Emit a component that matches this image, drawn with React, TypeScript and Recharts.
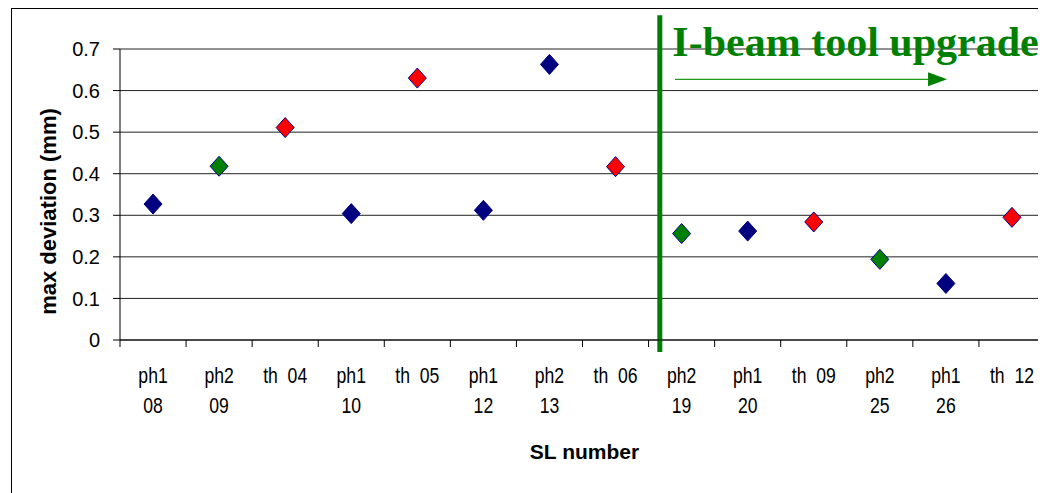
import React from "react";
import {
  ScatterChart,
  Scatter,
  XAxis,
  YAxis,
  CartesianGrid,
  ReferenceLine,
  ReferenceDot,
} from "recharts";

// SL numbers along the x axis
const categories = [
  "ph1 08", "ph2 09", "th  04", "ph1 10", "th  05", "ph1 12", "ph2 13",
  "th  06", "ph2 19", "ph1 20", "th  09", "ph2 25", "ph1 26", "th  12",
];

// max deviation (mm)
const values = [
  0.327, 0.418, 0.511, 0.304, 0.63, 0.312, 0.663,
  0.417, 0.256, 0.262, 0.284, 0.194, 0.136, 0.295,
];

const pointColors = [
  "#000080", "#008000", "#ff0000", "#000080", "#ff0000", "#000080", "#000080",
  "#ff0000", "#008000", "#000080", "#ff0000", "#008000", "#000080", "#ff0000",
];

const yTicks = [0, 0.1, 0.2, 0.3, 0.4, 0.5, 0.6, 0.7];

const upgradeAt = 8.17; // position of the I-beam upgrade marker, in category units
const upgradeText = "I-beam tool upgrade";

const points = categories.map((c, i) => ({
  x: i + 0.5,
  y: values[i],
  name: c,
  color: pointColors[i],
}));

const xTicks: number[] = [];
for (let i = 0; i <= categories.length * 2; i++) xTicks.push(i / 2);

const splitLabel = (s: string) => (s.startsWith("ph") ? s.split(" ") : [s]);

const XTick = (props: any) => {
  const { x, y, payload } = props;
  const v = payload.value;
  if (Number.isInteger(v)) {
    return <line x1={x} x2={x} y1={y} y2={y + 7} stroke="#000" />;
  }
  const lines = splitLabel(categories[Math.floor(v)]);
  return (
    <g transform={`translate(${x},${y}) scale(0.8,1)`}>
      {lines.map((l, i) => (
        <text
          key={i}
          x={0}
          y={43 + 30 * i}
          textAnchor="middle"
          fontSize={22}
          fill="#000"
          style={{ whiteSpace: "pre" }}
        >
          {l}
        </text>
      ))}
    </g>
  );
};

const Diamond = (props: any) => {
  const { cx, cy, payload } = props;
  if (cx == null || cy == null) return null;
  return (
    <polygon
      points={`${cx},${cy - 10} ${cx + 9},${cy} ${cx},${cy + 10} ${cx - 9},${cy}`}
      fill={payload.color}
      stroke="#000080"
      strokeWidth={1}
    />
  );
};

const YTitle = (props: any) => {
  const { viewBox } = props;
  const cx = 48;
  const cy = viewBox.y + viewBox.height / 2 + 17;
  return (
    <text
      x={cx}
      y={cy}
      transform={`rotate(-90, ${cx}, ${cy})`}
      textAnchor="middle"
      fontSize={22}
      fontWeight="bold"
      fill="#000"
    >
      max deviation (mm)
    </text>
  );
};

const XTitle = (props: any) => {
  const { viewBox } = props;
  return (
    <text
      x={viewBox.x + viewBox.width / 2 + 2}
      y={451}
      textAnchor="middle"
      fontSize={21}
      fontWeight="bold"
      fill="#000"
    >
      SL number
    </text>
  );
};

const UpgradeLabel = (props: any) => {
  const { cx, cy } = props;
  return (
    <text
      x={cx}
      y={cy}
      fontFamily="'Liberation Serif', 'Times New Roman', serif"
      fontWeight="bold"
      fontSize={42}
      fill="#008000"
    >
      {upgradeText}
    </text>
  );
};

const ArrowHead = (props: any) => {
  const { cx, cy } = props;
  return (
    <polygon
      points={`${cx},${cy - 7} ${cx + 19},${cy} ${cx},${cy + 7}`}
      fill="#008000"
    />
  );
};

export default function App() {
  return (
    <div
      style={{
        position: "relative",
        width: 1038,
        height: 485,
        overflow: "hidden",
        fontFamily: "'Liberation Sans', Arial, sans-serif",
        background: "#fff",
      }}
    >
      <div
        style={{
          position: "absolute",
          left: 3,
          top: 0,
          width: 1100,
          height: 600,
          border: "1px solid #000",
        }}
      />
      <ScatterChart
        width={1038}
        height={485}
        margin={{ top: 41, right: 1, left: 0, bottom: 0 }}
        style={{ position: "absolute", left: 0, top: 0 }}
      >
        <CartesianGrid vertical={false} stroke="#222" />
        <XAxis
          type="number"
          dataKey="x"
          domain={[0, categories.length]}
          ticks={xTicks}
          interval={0}
          tick={<XTick />}
          tickLine={false}
          tickSize={0}
          tickMargin={0}
          axisLine={{ stroke: "#000" }}
          height={153}
          label={<XTitle />}
        />
        <YAxis
          type="number"
          dataKey="y"
          domain={[0, 0.7]}
          ticks={yTicks}
          interval={0}
          width={112}
          tickSize={7}
          tickMargin={13}
          tickLine={{ stroke: "#000" }}
          axisLine={{ stroke: "#000" }}
          tick={{ fontSize: 20, fill: "#000" }}
          tickFormatter={(v: number) => (v === 0 ? "0" : v.toFixed(1))}
          label={<YTitle />}
        />
        <ReferenceLine x={categories.length} stroke="#999" />
        <ReferenceLine
          segment={[
            { x: upgradeAt, y: 0.781 },
            { x: upgradeAt, y: -0.029 },
          ]}
          stroke="#008000"
          strokeWidth={5}
          ifOverflow="visible"
        />
        <ReferenceLine
          segment={[
            { x: 8.4, y: 0.627 },
            { x: 12.23, y: 0.627 },
          ]}
          stroke="#1f9a1f"
          strokeWidth={1.2}
          ifOverflow="visible"
        />
        <ReferenceDot
          x={12.23}
          y={0.627}
          r={0}
          ifOverflow="visible"
          shape={<ArrowHead />}
        />
        <ReferenceDot
          x={8.36}
          y={0.682}
          r={0}
          ifOverflow="visible"
          shape={<UpgradeLabel />}
        />
        <Scatter data={points} shape={<Diamond />} isAnimationActive={false} />
      </ScatterChart>
    </div>
  );
}
